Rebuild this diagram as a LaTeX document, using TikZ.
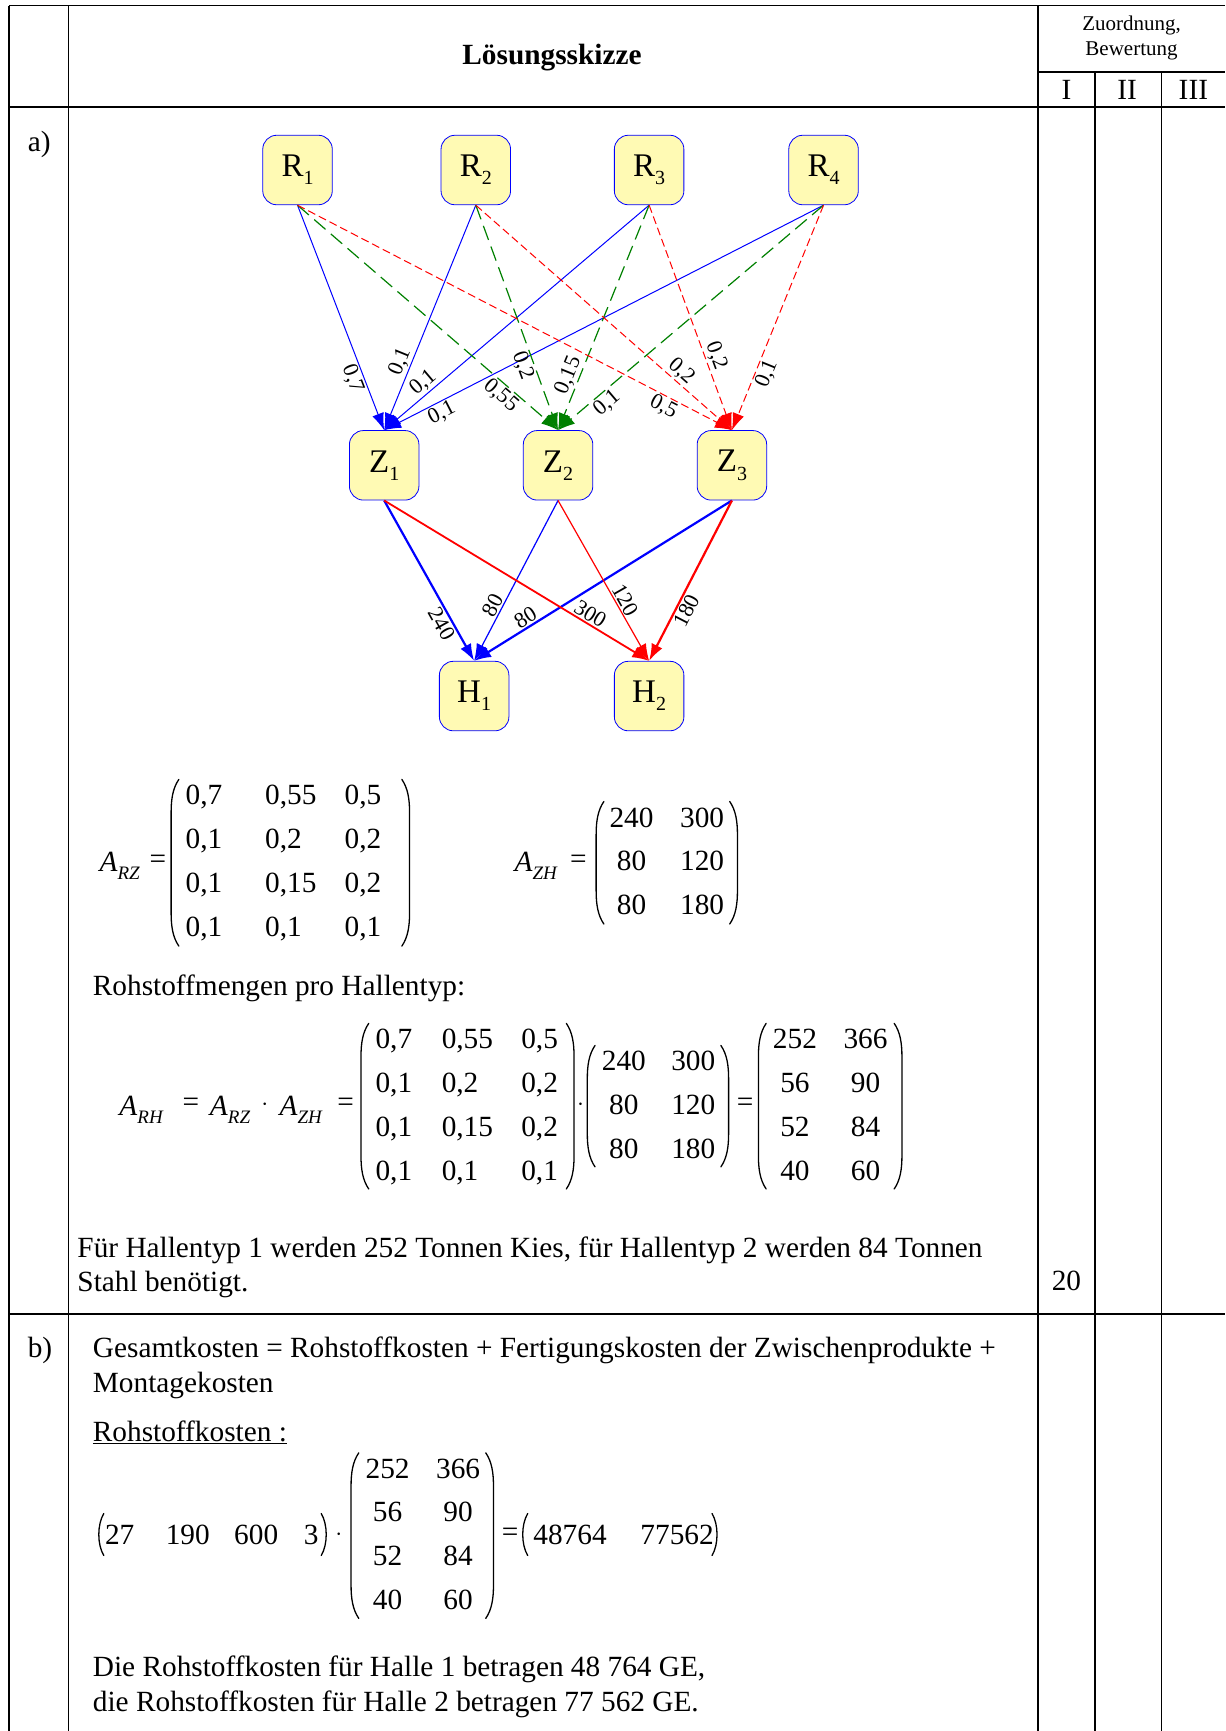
\documentclass[tikz,border=0pt]{standalone}
\usepackage{fontspec}
\setmainfont{Liberation Serif}
\usetikzlibrary{arrows.meta}
\definecolor{nodefill}{RGB}{255,250,180}
\definecolor{dgreen}{RGB}{0,128,0}
\newcommand{\mysub}[1]{\raisebox{-0.28em}{\fontsize{19}{19}\selectfont\textit{#1}}}
\newcommand{\nsub}[1]{\raisebox{-0.25em}{\fontsize{20}{20}\selectfont #1}}
\newcommand{\mylpar}[3]{\draw[parline] ({#1+7},#2) .. controls ({#1+1.5},{#2+8}) and (#1,{#2+18}) .. (#1,{#2+30}) -- (#1,{#3-30}) .. controls (#1,{#3-18}) and ({#1+1.5},{#3-8}) .. ({#1+7},#3);}
\newcommand{\myrpar}[3]{\draw[parline] ({#1-7},#2) .. controls ({#1-1.5},{#2+8}) and (#1,{#2+18}) .. (#1,{#2+30}) -- (#1,{#3-30}) .. controls (#1,{#3-18}) and ({#1-1.5},{#3-8}) .. ({#1-7},#3);}
\newcommand{\mysl}[3]{\draw[parline] ({#1+6},#2) .. controls (#1,{#2+10}) and (#1,{#3-10}) .. ({#1+6},#3);}
\newcommand{\mysr}[3]{\draw[parline] ({#1-6},#2) .. controls (#1,{#2+10}) and (#1,{#3-10}) .. ({#1-6},#3);}
\tikzset{
 box/.style={draw=blue, line width=0.8pt, fill=nodefill, rounded corners=14pt, minimum width=69.5pt, minimum height=69.5pt, inner sep=0pt, font=\fontsize{33}{33}\selectfont},
 lbl/.style={font=\fontsize{22}{22}\selectfont, sloped, inner sep=1.5pt},
 tip/.style={-{Latex[length=17pt,width=12pt]}},
 bl/.style={draw=blue, line width=1pt, tip},
 gr/.style={draw=dgreen, line width=1.2pt, dash pattern=on 15pt off 7pt, tip},
 rd/.style={draw=red, line width=1pt, dash pattern=on 8pt off 4pt, tip},
 gridline/.style={line width=1.6pt},
 parline/.style={line width=1.3pt, line cap=round},
 txt/.style={anchor=base west, inner sep=0pt, font=\fontsize{29.3}{34}\selectfont},
 ctxt/.style={anchor=center, inner sep=0pt, font=\fontsize{29.3}{34}\selectfont},
 mat/.style={anchor=west, inner sep=0pt, font=\fontsize{29.3}{43.8}\selectfont},
}
\begin{document}
\begin{tikzpicture}[x=1.1036pt,y=-1.1036pt]
\useasboundingbox (0,0) rectangle (1110,1568);
% table grid
\draw[gridline] (8,5) -- (1110,5);
\draw[gridline] (8,97) -- (1110,97);
\draw[gridline] (940,65) -- (1110,65);
\draw[gridline] (8,1190) -- (1110,1190);
\draw[gridline] (8,5) -- (8,1568);
\draw[gridline] (62,5) -- (62,1568);
\draw[gridline] (940,5) -- (940,1568);
\draw[gridline] (992,65) -- (992,1568);
\draw[gridline] (1052,65) -- (1052,1568);
% header
\node[ctxt, font=\bfseries\fontsize{29.3}{34}\selectfont] (title) at (500,52) {Lösungsskizze};
\node[ctxt, font=\fontsize{21}{24}\selectfont] (zu) at (1025,23) {Zuordnung,};
\node[ctxt, font=\fontsize{21}{24}\selectfont] (bw) at (1025,46) {Bewertung};
\node[txt, anchor=base] (c1) at (966,90) {I};
\node[txt, anchor=base] (c2) at (1021,90) {II};
\node[txt, anchor=base] (c3) at (1081,90) {III};
\node[txt] (pa) at (25,137) {a)};
\node[txt] (pb) at (25,1230) {b)};
\node[txt, anchor=base] (pts) at (966,1169) {20};
% graph nodes
\node[box] (R1) at (269.5,154) {R\nsub{1}};
\node[box] (R2) at (431,154) {R\nsub{2}};
\node[box] (R3) at (588,154) {R\nsub{3}};
\node[box] (R4) at (746,154) {R\nsub{4}};
\node[box] (Z1) at (348,421.5) {Z\nsub{1}};
\node[box] (Z2) at (505.5,421.5) {Z\nsub{2}};
\node[box] (Z3) at (663,421.5) {Z\nsub{3}};
\node[box] (H1) at (429.5,630.5) {H\nsub{1}};
\node[box] (H2) at (588,630.5) {H\nsub{2}};
% R -> Z1
\draw[bl] (R1.south) -- (Z1.north) node[lbl, pos=0.753, below] {0,7};
\draw[bl] (R2.south) -- (Z1.north) node[lbl, pos=0.715, above] {0,1};
\draw[bl] (R3.south) -- (Z1.north) node[lbl, pos=0.826, above] {0,1};
\draw[bl] (R4.south) -- (Z1.north) node[lbl, pos=0.88, below] {0,1};
% R -> Z2
\draw[gr] (R1.south) -- (Z2.north) node[lbl, pos=0.808, below] {0,55};
\draw[gr] (R2.south) -- (Z2.north) node[lbl, pos=0.696, below] {0,2};
\draw[gr] (R3.south) -- (Z2.north) node[lbl, pos=0.775, above] {0,15};
\draw[gr] (R4.south) -- (Z2.north) node[lbl, pos=0.843, below] {0,1};
% R -> Z3
\draw[rd] (R1.south) -- (Z3.north) node[lbl, pos=0.854, below] {0,5};
\draw[rd] (R2.south) -- (Z3.north) node[lbl, pos=0.774, above] {0,2};
\draw[rd] (R3.south) -- (Z3.north) node[lbl, pos=0.686, above] {0,2};
\draw[rd] (R4.south) -- (Z3.north) node[lbl, pos=0.731, below] {0,1};
% Z -> H
\draw[draw=blue, line width=2.2pt, tip] (Z1.south) -- (H1.north) node[lbl, pos=0.738, below] {240};
\draw[draw=blue, line width=1.2pt, tip] (Z2.south) -- (H1.north) node[lbl, pos=0.682, above] {80};
\draw[draw=blue, line width=2.2pt, tip] (Z3.south) -- (H1.north) node[lbl, pos=0.781, above] {80};
\draw[draw=red, line width=1.8pt, tip] (Z1.south) -- (H2.north) node[lbl, pos=0.759, above] {300};
\draw[draw=red, line width=1.2pt, tip] (Z2.south) -- (H2.north) node[lbl, pos=0.649, above] {120};
\draw[draw=red, line width=2.2pt, tip] (Z3.south) -- (H2.north) node[lbl, pos=0.659, below] {180};
% A_RZ and A_ZH
\node[txt] (aRZ) at (90,789) {\textit{A}\mysub{RZ}};
\node[ctxt] (eq1) at (143,781) {=};
\mylpar{155}{706}{857}
\node[mat] (mRZ) at (168,780.5) {\begin{tabular}{@{}p{79.5pt}@{}p{79.5pt}@{}l@{}}0,7&0,55&0,5\\0,1&0,2&0,2\\0,1&0,15&0,2\\0,1&0,1&0,1\end{tabular}};
\myrpar{371}{706}{857}
\node[txt] (aZH) at (466,789) {\textit{A}\mysub{ZH}};
\node[ctxt] (eq2) at (524,781) {=};
\mylpar{540}{726}{837}
\node[mat] (mZH) at (552,781) {\begin{tabular}{@{}c@{\hspace{26.6pt}}c@{}}240&300\\80&120\\80&180\end{tabular}};
\myrpar{668}{726}{837}
\node[txt] (t1) at (84,902) {Rohstoffmengen pro Hallentyp:};
% product
\node[txt] (aRH) at (108,1010) {\textit{A}\mysub{RH}};
\node[ctxt] (eq3) at (173,1001) {=};
\node[txt] (aRZb) at (190,1010) {\textit{A}\mysub{RZ}};
\node[ctxt] (dot1) at (240,1001) {$\cdot$};
\node[txt] (aZHb) at (253,1010) {\textit{A}\mysub{ZH}};
\node[ctxt] (eq4) at (313,1001) {=};
\mylpar{327}{927}{1077}
\node[mat] (m1) at (340,1001.5) {\begin{tabular}{@{}p{66.2pt}@{}p{79.5pt}@{}l@{}}0,7&0,55&0,5\\0,1&0,2&0,2\\0,1&0,15&0,2\\0,1&0,1&0,1\end{tabular}};
\myrpar{520}{927}{1077}
\node[ctxt] (dot2) at (526,1001) {$\cdot$};
\mylpar{532}{947}{1057}
\node[mat] (m2) at (545,1001.5) {\begin{tabular}{@{}c@{\hspace{25.5pt}}c@{}}240&300\\80&120\\80&180\end{tabular}};
\myrpar{660}{947}{1057}
\node[ctxt] (eq5) at (675,1001) {=};
\mylpar{687}{927}{1077}
\node[mat] (m3) at (700,1001.5) {\begin{tabular}{@{}c@{\hspace{26.6pt}}c@{}}252&366\\56&90\\52&84\\40&60\end{tabular}};
\myrpar{817}{927}{1077}
\node[txt] (t2) at (70,1139) {Für Hallentyp 1 werden 252 Tonnen Kies, für Hallentyp 2 werden 84 Tonnen};
\node[txt] (t3) at (70,1170) {Stahl benötigt.};
% part b
\node[txt] (t4) at (84,1230) {Gesamtkosten = Rohstoffkosten + Fertigungskosten der Zwischenprodukte +};
\node[txt] (t5) at (84,1261) {Montagekosten};
\node[txt] (t6) at (84,1306) {\underline{Rohstoffkosten :}};
\mysl{88}{1371}{1409}
\node[txt] (rv) at (95,1399) {27\hspace{31.4pt}190\hspace{24.5pt}600\hspace{25.6pt}3};
\mysr{297}{1371}{1409}
\node[ctxt] (dot3) at (307,1390) {$\cdot$};
\mylpar{318}{1316}{1466}
\node[mat] (m4) at (331,1390.5) {\begin{tabular}{@{}c@{\hspace{26.6pt}}c@{}}252&366\\56&90\\52&84\\40&60\end{tabular}};
\myrpar{447}{1316}{1466}
\node[ctxt] (eq6) at (462,1390) {=};
\mysl{472}{1371}{1409}
\node[txt] (res) at (483,1399) {48764\hspace{33.8pt}77562};
\mysr{651}{1371}{1409}
\node[txt] (t7) at (84,1519) {Die Rohstoffkosten für Halle 1 betragen 48 764 GE,};
\node[txt] (t8) at (84,1550) {die Rohstoffkosten für Halle 2 betragen 77 562 GE.};
\end{tikzpicture}
\end{document}
